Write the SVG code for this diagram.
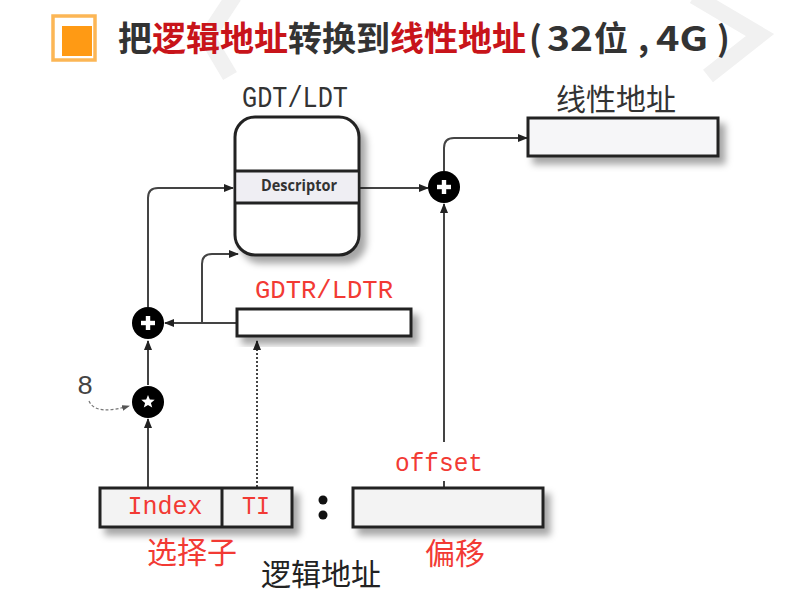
<svg xmlns="http://www.w3.org/2000/svg" width="806" height="612" viewBox="0 0 806 612">
  <style>
    .box { fill: #ffffff; stroke: #222222; stroke-width: 3; }
    .conn { fill: none; stroke: #444444; stroke-width: 2; }
    .mono { font-family: "Liberation Mono", "DejaVu Sans Mono", monospace; }
    .cjk { font-family: "Noto Sans CJK SC", sans-serif; }
    .ttl { font-family: "Noto Sans CJK SC", sans-serif; font-size: 34px; font-weight: 700; fill: #333333; }
    .red { fill: #f23a34; }
    .dark { fill: #333333; }
    .op { fill: #000000; }
  </style>
  <defs>
    <marker id="arr" markerUnits="userSpaceOnUse" markerWidth="10" markerHeight="8" refX="9" refY="4" orient="auto">
      <path d="M0,0 L10,4 L0,8 z" fill="#222222"/>
    </marker>
    <marker id="arrs" markerUnits="userSpaceOnUse" markerWidth="8" markerHeight="6" refX="7" refY="3" orient="auto">
      <path d="M0,0 L8,3 L0,6 z" fill="#555555"/>
    </marker>
    <filter id="sh" x="-20%" y="-20%" width="150%" height="160%">
      <feDropShadow dx="6" dy="7" stdDeviation="3.5" flood-color="#000000" flood-opacity="0.35"/>
    </filter>
  </defs>

  <rect x="0" y="0" width="806" height="612" fill="#ffffff"/>

  <!-- faint background chevrons -->
  <g id="background" fill="none" stroke="#f1f1f1" stroke-width="16">
    <polyline points="234,-4 207,37 230,76"/>
    <polyline points="694,-4 760,35 708,76"/>
  </g>

  <!-- title -->
  <g id="title">
    <rect x="53" y="16" width="42" height="44" fill="none" stroke="#fcb655" stroke-width="3.5"/>
    <rect x="62" y="26" width="30" height="30" fill="#ff9a14"/>
    <text x="118" y="51" class="ttl">把<tspan fill="#c8141a">逻辑地址</tspan>转换到<tspan fill="#c8141a">线性地址</tspan></text>
    <text x="529" y="51" class="ttl">(</text>
    <text x="547" y="51" class="ttl" textLength="46" lengthAdjust="spacingAndGlyphs">32</text>
    <text x="594" y="51" class="ttl">位</text>
    <text x="638" y="51" class="ttl">,</text>
    <text x="656" y="51" class="ttl" textLength="52" lengthAdjust="spacingAndGlyphs">4G</text>
    <text x="717" y="51" class="ttl">)</text>
  </g>

  <!-- connectors -->
  <g id="connectors">
    <path class="conn" d="M148,307 V198 Q148,188 158,188 H233" marker-end="url(#arr)"/>
    <path class="conn" d="M237,323 H165" marker-end="url(#arr)"/>
    <path class="conn" d="M202,323 V264 Q202,254 212,254 H238" marker-end="url(#arr)"/>
    <path class="conn" d="M148,385 V341" marker-end="url(#arr)"/>
    <path class="conn" d="M148,488 V419" marker-end="url(#arr)"/>
    <path class="conn" d="M257,487 V341" stroke-dasharray="2,2" marker-end="url(#arr)"/>
    <path class="conn" d="M359,188 H428" marker-end="url(#arr)"/>
    <path class="conn" d="M444,442 V204" marker-end="url(#arr)"/>
    <path class="conn" d="M444,481 V488"/>
    <path class="conn" d="M444,171 V148 Q444,138 454,138 H527" marker-end="url(#arr)"/>
    <path d="M89,401 C94,413 112,411 129,406" fill="none" stroke="#777777" stroke-width="1.2" stroke-dasharray="3,2" marker-end="url(#arrs)"/>
  </g>

  <!-- GDT/LDT table -->
  <g id="gdt">
    <text x="295" y="107" class="mono dark" font-size="29" text-anchor="middle" textLength="106" lengthAdjust="spacingAndGlyphs">GDT/LDT</text>
    <rect class="box" x="235" y="117" width="124" height="138" rx="20" filter="url(#sh)"/>
    <rect x="236.5" y="171" width="121" height="32" fill="#efeef3"/>
    <line x1="235" y1="171" x2="359" y2="171" stroke="#222222" stroke-width="3"/>
    <line x1="235" y1="203" x2="359" y2="203" stroke="#222222" stroke-width="3"/>
    <text x="299" y="191" font-family="'Open Sans', 'Liberation Sans', sans-serif" font-size="16" font-weight="700" fill="#333333" text-anchor="middle" textLength="76" lengthAdjust="spacingAndGlyphs">Descriptor</text>
  </g>

  <!-- GDTR/LDTR register -->
  <g id="gdtr">
    <text x="324" y="298" class="mono red" font-size="25" text-anchor="middle" textLength="138" lengthAdjust="spacingAndGlyphs">GDTR/LDTR</text>
    <rect class="box" x="237" y="309" width="174" height="27" filter="url(#sh)"/>
  </g>

  <!-- linear address -->
  <g id="linear">
    <text x="616" y="110" class="cjk dark" font-size="30" text-anchor="middle">线性地址</text>
    <rect class="box" x="528" y="118" width="190" height="38" style="fill:#f6f6f8" filter="url(#sh)"/>
  </g>

  <!-- adders and multiplier -->
  <g id="plus1">
    <circle class="op" cx="148" cy="323" r="16"/>
    <rect x="141" y="320.8" width="14" height="4.4" fill="#ffffff"/>
    <rect x="145.8" y="316" width="4.4" height="14" fill="#ffffff"/>
  </g>
  <g id="star">
    <circle class="op" cx="148" cy="402" r="16"/>
    <polygon points="148,395 149.8,399.6 154.7,399.8 150.9,402.9 152.2,407.6 148,404.9 143.8,407.6 145.1,402.9 141.3,399.8 146.2,399.6" fill="#ffffff"/>
    <text x="85" y="394" class="mono" font-size="27" fill="#444444" text-anchor="middle">8</text>
  </g>
  <g id="plus2">
    <circle class="op" cx="444" cy="187" r="16"/>
    <rect x="437" y="184.8" width="14" height="4.4" fill="#ffffff"/>
    <rect x="441.8" y="180" width="4.4" height="14" fill="#ffffff"/>
  </g>

  <!-- selector -->
  <g id="selector">
    <rect class="box" x="100" y="488" width="192" height="39" style="fill:#f3f3f3" filter="url(#sh)"/>
    <line x1="222" y1="488" x2="222" y2="527" stroke="#222222" stroke-width="3"/>
    <text x="165" y="514" class="mono red" font-size="25" text-anchor="middle" textLength="75" lengthAdjust="spacingAndGlyphs">Index</text>
    <text x="256" y="514" class="mono red" font-size="25" text-anchor="middle" textLength="28" lengthAdjust="spacingAndGlyphs">TI</text>
    <text x="192" y="563" class="cjk red" font-size="30" text-anchor="middle">选择子</text>
  </g>

  <g id="colon">
    <circle cx="323" cy="500" r="4.5" fill="#111111"/>
    <circle cx="323" cy="515" r="4.5" fill="#111111"/>
  </g>

  <!-- offset -->
  <g id="offset">
    <text x="439" y="471" class="mono red" font-size="25" text-anchor="middle" textLength="88" lengthAdjust="spacingAndGlyphs">offset</text>
    <rect class="box" x="353" y="488" width="190" height="39" style="fill:#f3f3f3" filter="url(#sh)"/>
    <text x="455" y="564" class="cjk red" font-size="30" text-anchor="middle">偏移</text>
  </g>

  <g id="logical">
    <text x="321" y="585" class="cjk" font-size="30" fill="#222222" text-anchor="middle">逻辑地址</text>
  </g>
</svg>
